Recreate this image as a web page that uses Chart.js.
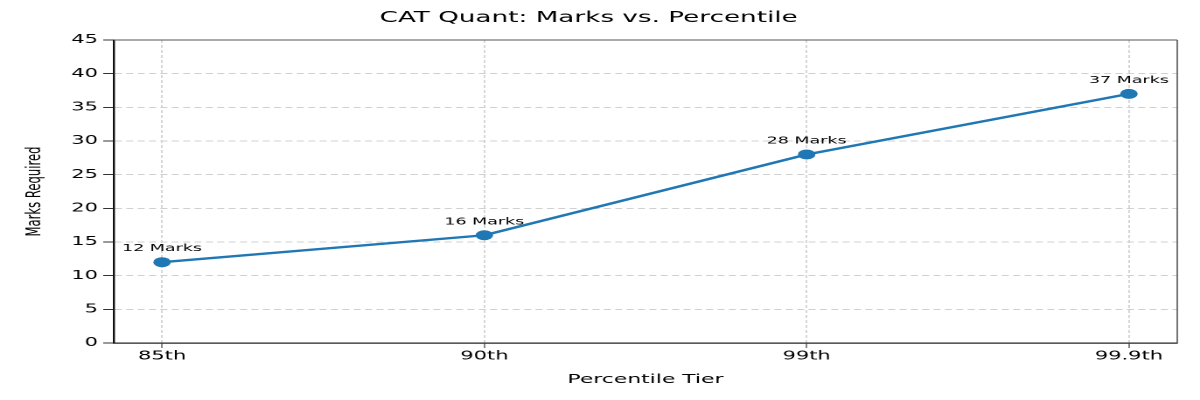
<!DOCTYPE html>
<html>
<head>
<meta charset="utf-8">
<script src="https://cdn.jsdelivr.net/npm/chart.js@4"></script>
<style>
  html, body { margin: 0; padding: 0; background: #fff; overflow: hidden; }
  /* the reference is a horizontally stretched figure: draw narrow, show wide */
  #chart { display: block; width: 1200px !important; height: 400px !important; }
</style>
</head>
<body>
<canvas id="chart" width="686" height="400"></canvas>
<script>
// datos del grafico
const tiers = ['85th', '90th', '99th', '99.9th'];
const marks = [12, 16, 28, 37];
const yTicks = [0, 5, 10, 15, 20, 25, 30, 35, 40, 45];

const BLUE = '#1f77b4';
const INK = '#000';
const FONT = "'DejaVu Sans', sans-serif";

// etiquetas "NN Marks" sobre cada punto
const pointLabels = {
    id: 'pointLabels',
    afterDatasetsDraw(chart) {
        const ctx = chart.ctx;
        const meta = chart.getDatasetMeta(0);
        ctx.save();
        ctx.font = '10px ' + FONT;
        ctx.fillStyle = INK;
        ctx.textAlign = 'center';
        ctx.textBaseline = 'alphabetic';
        meta.data.forEach((pt, i) => {
            ctx.fillText(marks[i] + ' Marks', pt.x, pt.y - 11);
        });
        ctx.restore();
    }
};

// marco gris arriba y a la derecha
const frame = {
    id: 'frame',
    afterDraw(chart) {
        const { ctx, chartArea: a } = chart;
        ctx.save();
        ctx.strokeStyle = '#555';
        ctx.lineWidth = 1;
        ctx.beginPath();
        ctx.moveTo(a.left, a.top);
        ctx.lineTo(a.right, a.top);
        ctx.stroke();
        ctx.lineWidth = 0.8;
        ctx.beginPath();
        ctx.moveTo(a.right, a.top);
        ctx.lineTo(a.right, a.bottom);
        ctx.stroke();
        ctx.restore();
    }
};

new Chart(document.getElementById('chart'), {
    type: 'line',
    data: {
        datasets: [{
            data: marks.map((m, i) => ({ x: i, y: m })),
            borderColor: BLUE,
            backgroundColor: BLUE,
            borderWidth: 2.4,
            pointRadius: 5,
            pointHoverRadius: 5,
            pointBorderWidth: 0,
            tension: 0
        }]
    },
    options: {
        responsive: false,
        devicePixelRatio: 2,
        animation: false,
        layout: { padding: { left: 0, right: 13, top: 0, bottom: 0 } },
        plugins: {
            legend: { display: false },
            tooltip: { enabled: false },
            title: {
                display: true,
                text: 'CAT Quant: Marks vs. Percentile',
                color: INK,
                font: { family: FONT, size: 15, weight: 'normal' },
                padding: { top: 9, bottom: 13 }
            }
        },
        scales: {
            x: {
                type: 'linear',
                min: -0.15,
                max: 3.15,
                afterBuildTicks: (s) => { s.ticks = tiers.map((t, i) => ({ value: i })); },
                afterFit: (s) => { s.height = 57; },
                ticks: {
                    callback: (v) => tiers[v],
                    color: INK,
                    font: { family: FONT, size: 12 },
                    padding: 1
                },
                grid: {
                    color: '#bdbdbd',
                    tickColor: '#333',
                    tickLength: 5,
                    lineWidth: 0.6
                },
                border: { color: '#222', width: 1.2, dash: [3, 2] },
                title: {
                    display: true,
                    text: 'Percentile Tier',
                    color: INK,
                    font: { family: FONT, size: 12.5 },
                    padding: { top: 0, bottom: 13 }
                }
            },
            y: {
                min: 0,
                max: 45,
                afterBuildTicks: (s) => { s.ticks = yTicks.map(v => ({ value: v })); },
                afterFit: (s) => { s.width = 65; },
                ticks: {
                    color: INK,
                    font: { family: FONT, size: 12 },
                    padding: 3
                },
                grid: {
                    color: '#d0d0d0',
                    tickColor: '#333',
                    tickLength: 6,
                    lineWidth: 1
                },
                border: { color: '#111', width: 1.2, dash: [4, 2.5] },
                title: {
                    display: true,
                    text: 'Marks Required',
                    color: INK,
                    font: { family: FONT, size: 11.6 },
                    padding: { top: 13, bottom: 0 }
                }
            }
        }
    },
    plugins: [frame, pointLabels]
});
</script>
</body>
</html>
